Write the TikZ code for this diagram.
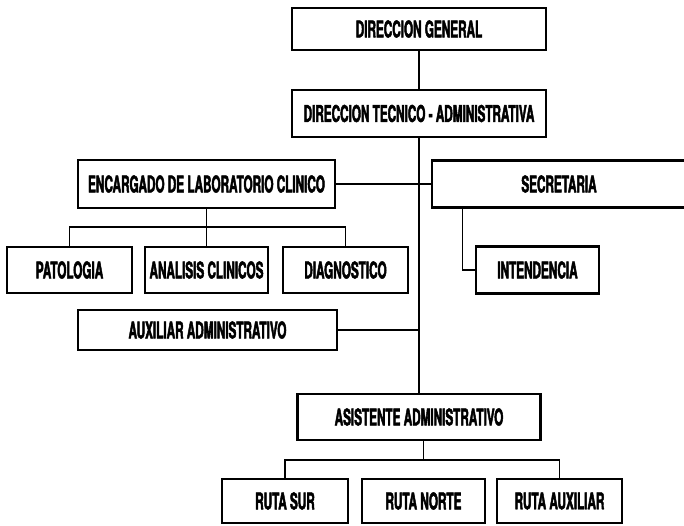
\documentclass[tikz,border=0pt]{standalone}
\usepackage{fontspec}
\newfontfamily\orgfont{TeX Gyre Heros}[FakeStretch=0.51,FakeBold=2]
\begin{document}
\begin{tikzpicture}[x=1pt,y=-1pt,
  caja/.style={draw,line width=2.5pt,inner sep=0pt,
    font={\orgfont\bfseries\fontsize{23}{23}\selectfont}},
  linea/.style={line width=1.2pt}]
\clip (0,0) rectangle (684,525);

\node[caja,minimum width=254pt,minimum height=42pt] (dg) at (419,29) {DIRECCION GENERAL};
\node[caja,minimum width=254pt,minimum height=47pt] (dta) at (419,113.5) {DIRECCION TECNICO - ADMINISTRATIVA};

\node[caja,minimum width=257pt,minimum height=48pt] (enc) at (206.5,184) {ENCARGADO DE LABORATORIO CLINICO};
\node[caja,minimum width=254pt,minimum height=47pt] (sec) at (559,184) {SECRETARIA};

\node[caja,minimum width=125pt,minimum height=46pt] (pat) at (69.5,270) {PATOLOGIA};
\node[caja,minimum width=123pt,minimum height=46pt] (ana) at (206.5,270) {ANALISIS CLINICOS};
\node[caja,minimum width=125pt,minimum height=46pt] (diag) at (345.5,270) {DIAGNOSTICO};
\node[caja,minimum width=123pt,minimum height=47pt] (int) at (537.5,270) {INTENDENCIA};

\node[caja,minimum width=259pt,minimum height=40pt] (aux) at (207.5,330) {AUXILIAR ADMINISTRATIVO};

\node[caja,minimum width=243pt,minimum height=46pt] (asis) at (419,417) {ASISTENTE ADMINISTRATIVO};

\node[caja,minimum width=126pt,minimum height=44pt] (sur) at (285,501) {RUTA SUR};
\node[caja,minimum width=123pt,minimum height=44pt] (norte) at (423.5,501) {RUTA NORTE};
\node[caja,minimum width=125pt,minimum height=44pt] (rauxi) at (559.5,501) {RUTA AUXILIAR};

\coordinate (encbar) at (206.5,227);
\coordinate (asisbar) at (423.5,460);

\draw[linea] (dg) -- (dta);
\draw[linea] (dta.south) -- (asis.north);
\draw[linea] (enc.east) -- (enc.east -| sec.west);
\draw[linea] (aux.east) -- (aux.east -| dta.south);

\draw[linea] (enc.south) -- (encbar);
\draw[linea] (pat.north) |- (encbar) -| (diag.north);
\draw[linea] (ana.north) -- (ana.north |- encbar);

\draw[linea] ([xshift=32pt]sec.south west) |- (int.west);

\draw[linea] (asis.south -| norte.north) -- (asisbar);
\draw[linea] (sur.north) |- (asisbar) -| (rauxi.north);

\end{tikzpicture}
\end{document}
